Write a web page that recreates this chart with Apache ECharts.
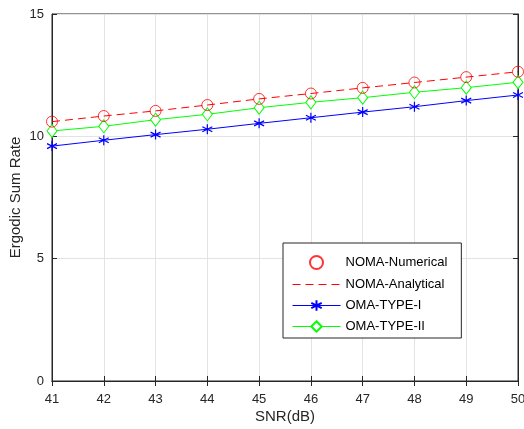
<!DOCTYPE html>
<html><head><meta charset="utf-8">
<script src="https://cdn.jsdelivr.net/npm/echarts@6/dist/echarts.min.js"></script>
<style>html,body{margin:0;padding:0;background:#fff}#c{width:524px;height:429px}</style>
</head><body><div id="c"></div>
<script>
const snr = [41, 42, 43, 44, 45, 46, 47, 48, 49, 50];
const nomaNumerical = [10.60, 10.83, 11.04, 11.28, 11.53, 11.75, 11.98, 12.20, 12.42, 12.64];
const nomaAnalytical = [10.60, 10.83, 11.04, 11.28, 11.53, 11.75, 11.98, 12.20, 12.42, 12.64];
const omaType1 = [9.60, 9.84, 10.07, 10.29, 10.53, 10.76, 10.99, 11.21, 11.46, 11.69];
const omaType2 = [10.22, 10.41, 10.68, 10.90, 11.17, 11.39, 11.58, 11.80, 11.99, 12.21];
const yTicks = [0, 5, 10, 15];

const pair = a => snr.map((x, i) => [x, a[i]]);
const font = 'Liberation Sans, Arial, sans-serif';
const star = 'path://M0,-5L0,5M-4.33,-2.5L4.33,2.5M-4.33,2.5L4.33,-2.5';

const chart = echarts.init(document.getElementById('c'), null, {renderer: 'canvas'});
const axCommon = {
  axisLine: {show: true, lineStyle: {color: '#262626', width: 1}},
  axisTick: {show: true, inside: true, length: 5, lineStyle: {color: '#262626'}},
};
chart.setOption({
  animation: false,
  textStyle: {fontFamily: font},
  grid: {left: 52, right: 6, top: 14, bottom: 48, show: true, borderColor: '#262626', borderWidth: 1,
    containLabel: false, outerBoundsMode: 'none'},
  xAxis: [{
    type: 'value', min: 41, max: 50, interval: 1, position: 'bottom',
    name: 'SNR(dB)', nameLocation: 'middle', nameGap: 28, nameMoveOverlap: false,
    nameTextStyle: {fontSize: 15, color: '#262626', fontFamily: font},
    axisLabel: {fontSize: 13, color: '#262626', margin: 12, fontFamily: font},
    splitLine: {show: true, lineStyle: {color: '#e3e3e3', width: 1}},
    ...axCommon
  }, {
    type: 'value', min: 41, max: 50, interval: 1, position: 'top',
    axisLabel: {show: false}, splitLine: {show: false}, ...axCommon
  }],
  yAxis: [{
    type: 'value', min: 0, max: 15, interval: 5, position: 'left',
    name: 'Ergodic Sum Rate', nameLocation: 'middle', nameGap: 29, nameMoveOverlap: false,
    nameTextStyle: {fontSize: 15, color: '#262626', fontFamily: font},
    axisLabel: {fontSize: 13, color: '#262626', margin: 8, fontFamily: font,
      formatter: v => yTicks.includes(v) ? String(v) : ''},
    splitLine: {show: true, lineStyle: {color: '#e3e3e3', width: 1}},
    ...axCommon
  }, {
    type: 'value', min: 0, max: 15, interval: 5, position: 'right',
    axisLabel: {show: false}, splitLine: {show: false}, ...axCommon
  }],
  legend: {
    orient: 'vertical', left: 283, top: 243,
    padding: [12, 14, 5, 9], itemGap: 8, itemWidth: 48, itemHeight: 13,
    backgroundColor: '#fff', borderColor: '#262626', borderWidth: 1,
    textStyle: {fontSize: 13, color: '#000', fontFamily: font},
    lineStyle: {width: 1},
    data: [
      {name: 'NOMA-Numerical'},
      {name: 'NOMA-Analytical', itemStyle: {opacity: 0}},
      {name: 'OMA-TYPE-I'},
      {name: 'OMA-TYPE-II'}
    ]
  },
  series: [{
    name: 'NOMA-Analytical', type: 'line', data: pair(nomaAnalytical),
    xAxisIndex: 0, yAxisIndex: 0,
    symbol: 'none', lineStyle: {color: '#ff0000', width: 1, type: [8, 5]},
    itemStyle: {color: '#ff0000'}, z: 3
  }, {
    name: 'NOMA-Numerical', type: 'scatter', data: pair(nomaNumerical),
    symbol: 'circle', symbolSize: 11,
    itemStyle: {color: 'rgba(255,255,255,0)', borderColor: '#ff0000', borderWidth: 1}, z: 4
  }, {
    name: 'OMA-TYPE-I', type: 'line', data: pair(omaType1),
    symbol: star, symbolSize: 10, showAllSymbol: true,
    lineStyle: {color: '#0000ff', width: 1},
    itemStyle: {color: '#0000ff', borderColor: '#0000ff', borderWidth: 1.2}, z: 3
  }, {
    name: 'OMA-TYPE-II', type: 'line', data: pair(omaType2),
    symbol: 'diamond', symbolSize: [10, 13], showAllSymbol: true,
    lineStyle: {color: '#00ff00', width: 1},
    itemStyle: {color: '#ffffff', borderColor: '#00ff00', borderWidth: 1}, z: 3
  }]
});
</script></body></html>
